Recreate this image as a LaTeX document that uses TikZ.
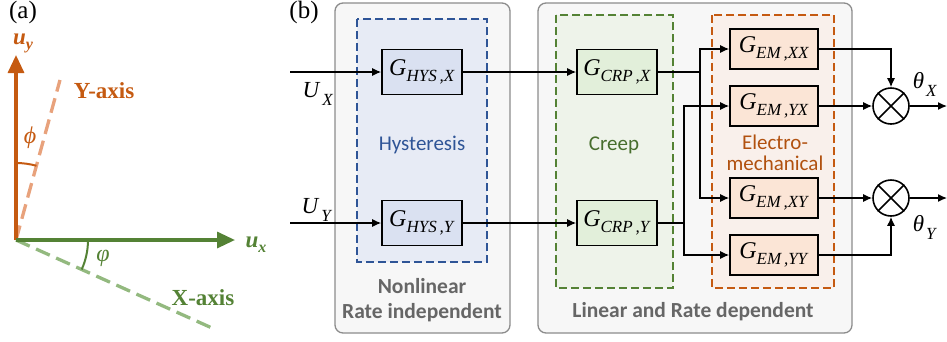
\documentclass[tikz,border=0pt]{standalone}
\usepackage{fontspec}
\setmainfont{Liberation Serif}
\newfontfamily\calib{Carlito}
\usetikzlibrary{arrows.meta}
\definecolor{orgA}{HTML}{C55A11}
\definecolor{orgL}{HTML}{E8A27C}
\definecolor{grnA}{HTML}{548235}
\definecolor{grnL}{HTML}{93B97F}
\definecolor{bluD}{HTML}{2F5597}
\definecolor{bluR}{HTML}{E7EBF5}
\definecolor{bluB}{HTML}{DAE1F1}
\definecolor{grnR}{HTML}{EEF3EA}
\definecolor{grnB}{HTML}{E2EFDA}
\definecolor{orgR}{HTML}{F9F0EB}
\definecolor{orgB}{HTML}{FBE5D6}
\definecolor{gryF}{HTML}{F7F7F7}
\definecolor{gryD}{HTML}{8C8C8C}
\definecolor{gryT}{HTML}{666666}
\newcommand{\gsub}[2]{\textit{G}\raisebox{-6pt}{\fontsize{17}{17}\selectfont\textit{#1\,,#2}}}
\newcommand{\vsub}[2]{\textit{#1}\raisebox{-5pt}{\fontsize{16}{16}\selectfont\textit{#2}}}
\newcommand{\wsub}[2]{\textit{#1}\kern2pt\raisebox{-8pt}{\fontsize{17}{17}\selectfont\textit{#2}}}

\begin{document}
\begin{tikzpicture}[x=1pt, y=-1pt, line width=1.3pt,
    >={Latex[length=9pt, width=8pt]},
    thk/.style={line width=3.3pt, -{Triangle[length=18pt, width=16pt]}},
    blk/.style={draw, line width=1.6pt, minimum width=80, minimum height=45,
                inner sep=0pt, font=\fontsize{24}{24}\selectfont},
    emblk/.style={blk, fill=orgB, minimum width=88, minimum height=40},
    sumc/.style={draw, circle, line width=1.6pt, minimum size=36, inner sep=0pt},
    grp/.style={draw=gryD, fill=gryF, rounded corners=8pt, line width=1.3pt},
    reg/.style={line width=1.3pt, dash pattern=on 8pt off 4pt},
    lbl/.style={font=\calib\fontsize{21}{21}\selectfont},
    glbl/.style={font=\calib\bfseries\fontsize{21.5}{25}\selectfont, text=gryT, align=center}]

  \useasboundingbox (0,0) rectangle (947,341);

  % (a) axes
  \node[font=\fontsize{25}{25}\selectfont] (pa) at (23,12) {(a)};
  \coordinate (o) at (16,240);
  \coordinate (uy) at (16,55);
  \coordinate (ux) at (235,240);
  \coordinate (ya) at (60,80);
  \coordinate (xa) at (212,328);
  \draw[orgL, line width=3.3pt, dash pattern=on 15pt off 7pt] (o) -- (ya);
  \draw[grnL, line width=3.3pt, dash pattern=on 15pt off 7pt] (o) -- (xa);
  \draw[thk, orgA] (o) -- (uy);
  \draw[thk, grnA] (o) -- (ux);
  \draw[orgA, line width=2pt] (16,163) arc[start angle=-90, end angle=-74.6, radius=77];
  \draw[grnA, line width=2pt] (88,240) arc[start angle=0, end angle=24.2, radius=72];
  \node[text=orgA, font=\fontsize{23}{23}\selectfont\bfseries] (uyl) at (23,43) {\vsub{u}{y}};
  \node[text=orgA, font=\fontsize{23}{23}\selectfont\bfseries] (yal) at (104,91) {Y-axis};
  \node[text=orgA, font=\fontsize{24}{24}\selectfont] (phl) at (30,138) {\textit{ϕ}};
  \node[text=grnA, font=\fontsize{23}{23}\selectfont\bfseries] (uxl) at (256,245) {\vsub{u}{x}};
  \node[text=grnA, font=\fontsize{24}{24}\selectfont] (vpl) at (103,258) {\textit{φ}};
  \node[text=grnA, font=\fontsize{23}{23}\selectfont\bfseries] (xal) at (203,298) {X-axis};

  % (b) block diagram
  \node[font=\fontsize{25}{25}\selectfont] (pb) at (304,12) {(b)};
  \draw[grp] (335,3) rectangle (510,333);
  \draw[grp] (538,3) rectangle (852,333);
  \draw[reg, draw=bluD, fill=bluR] (357,19) rectangle (487,262);
  \draw[reg, draw=grnA, fill=grnR] (556,15) rectangle (673,288);
  \draw[reg, draw=orgA, fill=orgR] (712,15) rectangle (834,288);
  \node[lbl, text=bluD] (hys) at (422,145) {Hysteresis};
  \node[lbl, text=grnA!85!black] (crp) at (614,145) {Creep};
  \node[lbl, text=orgA!90!black, align=center] (emc) at (775,153) {Electro-\\mechanical};
  \node[glbl] (g1) at (422,300) {Nonlinear\\Rate independent};
  \node[glbl] (g2) at (693,312) {Linear and Rate dependent};

  \node[blk, fill=bluB] (hysx) at (422,72) {\gsub{HYS}{X}};
  \node[blk, fill=bluB] (hysy) at (422,223) {\gsub{HYS}{Y}};
  \node[blk, fill=grnB] (crpx) at (617,72) {\gsub{CRP}{X}};
  \node[blk, fill=grnB] (crpy) at (617,223) {\gsub{CRP}{Y}};
  \node[emblk] (emxx) at (774,49) {\gsub{EM}{XX}};
  \node[emblk] (emyx) at (774,106) {\gsub{EM}{YX}};
  \node[emblk] (emxy) at (774,198) {\gsub{EM}{XY}};
  \node[emblk] (emyy) at (774,255) {\gsub{EM}{YY}};
  \node[sumc] (sumx) at (891,106) {};
  \node[sumc] (sumy) at (891,198) {};
  \foreach \s in {sumx,sumy} {
    \draw[line width=1.6pt] (\s.north west) -- (\s.south east);
    \draw[line width=1.6pt] (\s.north east) -- (\s.south west);
  }

  \coordinate (inx) at (290,72);
  \coordinate (iny) at (290,223);
  \coordinate (jx) at (700,72);
  \coordinate (jy) at (684,223);
  \coordinate (outx) at (947,106);
  \coordinate (outy) at (947,198);
  \draw[->] (inx) -- (hysx);
  \draw[->] (iny) -- (hysy);
  \draw[->] (hysx) -- (crpx);
  \draw[->] (hysy) -- (crpy);
  \draw (crpx) -- (jx);
  \draw (crpy) -- (jy);
  \draw[->] (jx) |- (emxx);
  \draw[->] (jx) |- (emxy);
  \draw[->] (jy) |- (emyx);
  \draw[->] (jy) |- (emyy);
  \draw[->] (emxx) -| (sumx);
  \draw[->] (emyx) -- (sumx);
  \draw[->] (emxy) -- (sumy);
  \draw[->] (emyy) -| (sumy);
  \draw[->] (sumx) -- (outx);
  \draw[->] (sumy) -- (outy);

  \node[font=\fontsize{23}{23}\selectfont] (ulx) at (318,94) {\wsub{U}{X}};
  \node[font=\fontsize{23}{23}\selectfont] (uly) at (317,210) {\wsub{U}{Y}};
  \node[font=\fontsize{23}{23}\selectfont] (thx) at (925,84) {\wsub{θ}{X}};
  \node[font=\fontsize{23}{23}\selectfont] (thy) at (925,227) {\wsub{θ}{Y}};
\end{tikzpicture}
\end{document}
